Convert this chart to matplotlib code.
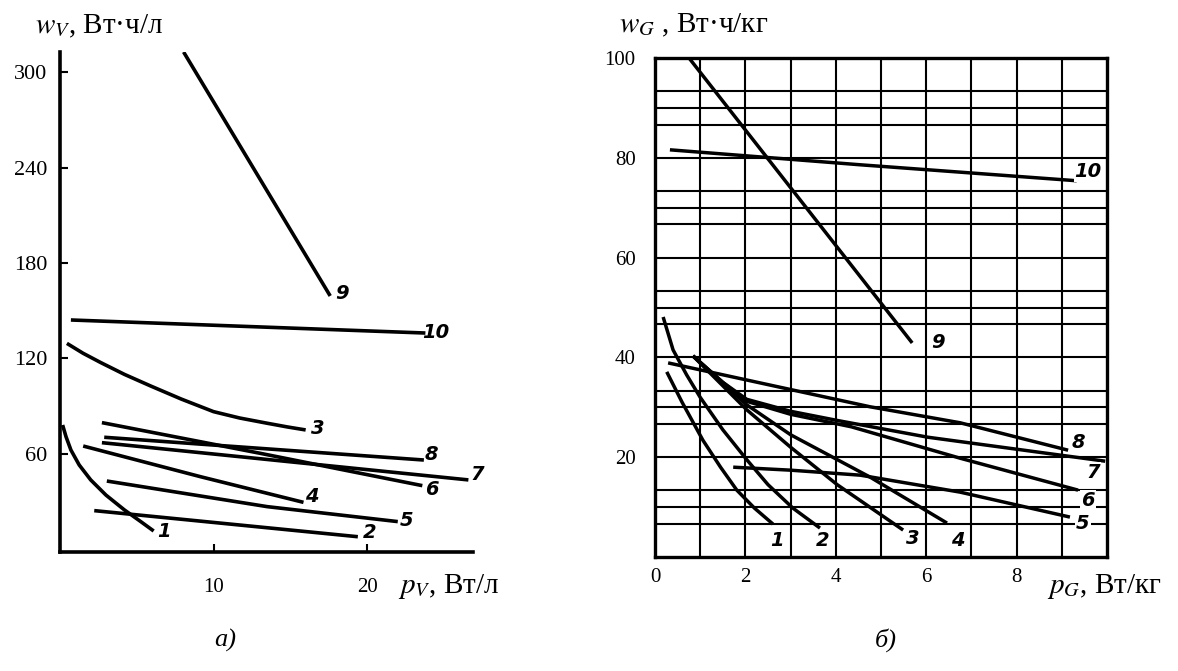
import numpy as np
import matplotlib.pyplot as plt
from matplotlib.ticker import FixedLocator

plt.rcParams['font.family'] = ['Liberation Serif', 'DejaVu Serif']
plt.rcParams['mathtext.fontset'] = 'stix'

# номера кривых
names = ['1', '2', '3', '4', '5', '6', '7', '8', '9', '10']

# а) w_V (Вт·ч/л) от p_V (Вт/л)
left_x = [
    [0.17, 0.39, 0.71, 1.25, 2.0, 2.99, 4.2, 5.26, 6.1],
    [2.23, 19.4],
    [0.45, 1.5, 2.66, 4.2, 5.91, 7.9, 10.0, 11.7, 13.5, 14.8, 16.0],
    [1.51, 9.16, 15.86],
    [3.05, 13.5, 22.0],
    [2.73, 13.05, 23.6],
    [2.73, 26.6],
    [2.88, 23.7],
    [8.05, 17.6],
    [0.71, 23.8],
]
left_y = [
    [78.2, 70.9, 62.5, 53.1, 43.7, 34.2, 24.8, 17.5, 11.6],
    [24.4, 8.0],
    [129.5, 123.3, 117.4, 110.0, 102.7, 94.5, 86.6, 82.6, 79.3, 77.0, 75.1],
    [65.0, 45.7, 29.6],
    [43.0, 26.9, 17.5],
    [79.7, 60.4, 40.1],
    [67.1, 43.7],
    [70.5, 56.2],
    [312.6, 159.3],
    [144.2, 136.0],
]
left_lab = [(6.75, 11.0), (20.2, 10.4), (16.8, 76.3), (16.4, 33.0), (22.6, 18.5),
            (24.2, 37.4), (27.2, 46.8), (24.2, 59.4), (18.4, 161.1), (24.5, 136.6)]

# б) w_G (Вт·ч/кг) от p_G (Вт/кг)
right_x = [
    [0.26, 0.6, 1.06, 1.45, 1.81, 2.2, 2.61],
    [0.18, 0.4, 0.7, 1.0, 1.5, 2.03, 2.5, 3.05, 3.65],
    [0.84, 2.03, 3.0, 4.03, 5.49],
    [0.84, 2.03, 3.0, 4.76, 6.46],
    [1.73, 3.0, 4.54, 6.75, 9.18],
    [0.84, 1.5, 2.03, 3.0, 4.34, 6.75, 9.36],
    [0.84, 1.5, 2.03, 3.0, 4.07, 6.04, 8.0, 9.96],
    [0.29, 3.03, 4.76, 6.75, 9.14],
    [0.77, 5.69],
    [0.33, 4.54, 9.33],
]
right_y = [
    [37.1, 31.0, 23.4, 18.0, 13.4, 9.8, 6.6],
    [48.1, 41.5, 36.5, 32.0, 25.5, 19.5, 14.5, 9.8, 5.8],
    [40.3, 29.5, 22.0, 14.5, 5.4],
    [40.3, 30.5, 24.5, 16.0, 6.8],
    [18.0, 17.4, 16.4, 13.0, 8.0],
    [40.3, 35.0, 31.2, 28.6, 26.1, 19.8, 13.4],
    [40.3, 35.0, 31.6, 29.2, 27.3, 24.0, 21.6, 19.2],
    [38.9, 33.5, 30.1, 26.9, 21.4],
    [99.8, 42.9],
    [81.6, 78.6, 75.4],
]
right_lab = [(2.70, 3.4), (3.72, 3.4), (5.71, 3.8), (6.70, 3.4), (9.47, 6.8),
             (9.58, 11.4), (9.69, 17.0), (9.36, 23.0), (6.26, 42.9), (9.58, 77.2)]

W, H = 1178, 671
fig = plt.figure(figsize=(W / 100, H / 100), dpi=100)

lab_font = dict(fontsize=14, fontweight='bold', fontstyle='italic',
                family='DejaVu Sans', ha='center', va='center')

# ---- левый график
ax1 = fig.add_axes([60 / W, 1 - 552 / H, 413 / W, 500 / H])
for x, y in zip(left_x, left_y):
    ax1.plot(x, y, color='black', lw=2.6, solid_capstyle='butt', solid_joinstyle='round')
for n, (tx, ty) in zip(names, left_lab):
    ax1.text(tx, ty, n, clip_on=False, **lab_font)
ax1.set_xlim(0, 26.9)
ax1.set_ylim(-1.6, 312.6)
ax1.set_xticks([10, 20])
ax1.set_yticks([60, 120, 180, 240, 300])
ax1.spines['top'].set_visible(False)
ax1.spines['right'].set_visible(False)
ax1.spines['left'].set_linewidth(2.6)
ax1.spines['bottom'].set_linewidth(2.6)
ax1.tick_params(axis='y', direction='in', length=6, width=1.5, pad=9, labelsize=16)
ax1.tick_params(axis='x', direction='in', length=6, width=1.5, pad=19, labelsize=15)

# ---- правый график
ax2 = fig.add_axes([655 / W, 1 - 557 / H, 452 / W, 499 / H])
for x, y in zip(right_x, right_y):
    ax2.plot(x, y, color='black', lw=2.5, solid_capstyle='butt',
             solid_joinstyle='round', zorder=3)
for n, (tx, ty) in zip(names, right_lab):
    ax2.text(tx, ty, n, clip_on=False, zorder=4,
             bbox=dict(facecolor='white', edgecolor='none', pad=0.5), **lab_font)
ax2.set_xlim(0, 10)
ax2.set_ylim(0, 100)
ax2.set_xticks([0, 2, 4, 6, 8])
ax2.set_yticks([20, 40, 60, 80, 100])
grid_y = [b + d for b in range(0, 100, 20) for d in (20 / 3, 10, 40 / 3, 20)]
ax2.xaxis.set_minor_locator(FixedLocator(np.arange(1, 10)))
ax2.yaxis.set_minor_locator(FixedLocator(grid_y))
ax2.grid(which='both', color='black', lw=1.5)
for s in ax2.spines.values():
    s.set_linewidth(2.4)
ax2.tick_params(which='both', length=0)
ax2.tick_params(axis='y', pad=14, labelsize=15)
ax2.tick_params(axis='x', pad=8, labelsize=15)

# подписи осей
fig.text(35 / W, 1 - 32 / H, r'$w_V$, Вт·ч/л', fontsize=21, va='baseline')
fig.text(398 / W, 1 - 593 / H, r'$p_V$, Вт/л', fontsize=21, va='baseline')
fig.text(619 / W, 1 - 32 / H, r'$w_G$ , Вт·ч/кг', fontsize=21, va='baseline')
fig.text(1047 / W, 1 - 593 / H, r'$p_G$, Вт/кг', fontsize=21, va='baseline')

fig.text(225 / W, 1 - 640 / H, 'а)', fontsize=19, style='italic', ha='center', va='center')
fig.text(886 / W, 1 - 640 / H, 'б)', fontsize=19, style='italic', ha='center', va='center')

fig.savefig('out.png', dpi=100)
